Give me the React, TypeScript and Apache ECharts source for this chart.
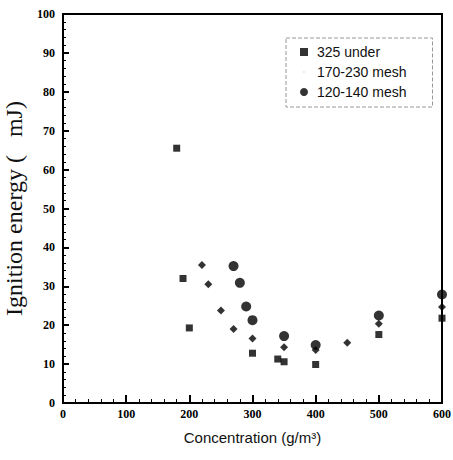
import React, { useEffect, useRef } from "react";
import * as echarts from "echarts";

const seriesNames = ["325 under", "170-230 mesh", "120-140 mesh"];
const under325: [number, number][] = [
  [180, 65.5], [190, 32], [200, 19.3], [300, 12.8], [340, 11.3], [350, 10.6], [400, 9.9], [500, 17.6], [600, 21.8],
];
const mesh170: [number, number][] = [
  [220, 35.5], [230, 30.5], [250, 23.8], [270, 19], [300, 16.6], [350, 14.3], [400, 13.6], [450, 15.5], [500, 20.4], [600, 24.7],
];
const mesh120: [number, number][] = [
  [270, 35.2], [280, 30.9], [290, 24.8], [300, 21.3], [350, 17.2], [400, 14.9], [500, 22.5], [600, 27.9],
];

export default function App() {
  const ref = useRef<HTMLDivElement>(null);
  useEffect(() => {
    if (!ref.current) return;
    const chart = echarts.init(ref.current, null, { renderer: "svg" });
    const tickLabel = { fontFamily: "Liberation Serif", fontWeight: "bold" as const, fontSize: 12, color: "#000" };
    chart.setOption({
      animation: false,
      backgroundColor: "#fff",
      grid: {
        left: 63, right: 11, top: 14, bottom: 57, show: true, borderColor: "#000", borderWidth: 2,
        containLabel: false, outerBoundsMode: "none",
      },
      legend: {
        orient: "vertical",
        left: 286,
        top: 38,
        padding: [7, 26, 8, 14],
        itemGap: 6,
        itemWidth: 8,
        itemHeight: 8,
        borderColor: "#999",
        borderWidth: 1,
        borderType: "dashed",
        textStyle: { fontFamily: "Liberation Sans", fontSize: 14, color: "#111", padding: [0, 0, 0, 4] },
        data: [
          { name: seriesNames[0], icon: "rect" },
          { name: seriesNames[1], icon: "path://M0,0M10,10M4.3,4.3h1.4v1.4h-1.4z", itemStyle: { color: "#aaa" } },
          { name: seriesNames[2], icon: "circle" },
        ],
      },
      xAxis: {
        type: "value",
        min: 0,
        max: 600,
        interval: 100,
        name: "Concentration (g/m³)",
        nameLocation: "middle",
        nameGap: 27,
        nameTextStyle: { fontFamily: "Liberation Sans", fontSize: 15, color: "#111", verticalAlign: "top" },
        axisLine: { lineStyle: { color: "#000", width: 2 } },
        axisTick: { inside: true, length: 8, lineStyle: { color: "#000", width: 2 } },
        minorTick: { show: true, splitNumber: 5, length: 4, lineStyle: { color: "#000", width: 1 } },
        axisLabel: { ...tickLabel, margin: 5 },
        splitLine: { show: false },
      },
      yAxis: {
        type: "value",
        min: 0,
        max: 100,
        interval: 10,
        name: "Ignition energy (   mJ)",
        nameLocation: "middle",
        nameGap: 29,
        nameTextStyle: { fontFamily: "Liberation Serif", fontSize: 24, color: "#111" },
        axisLine: { lineStyle: { color: "#000", width: 2 } },
        axisTick: { inside: true, length: 6, lineStyle: { color: "#000", width: 2 } },
        minorTick: { show: true, splitNumber: 5, length: 3, lineStyle: { color: "#000", width: 1 } },
        axisLabel: { ...tickLabel, margin: 8 },
        splitLine: { show: false },
      },
      series: [
        { name: seriesNames[0], type: "scatter", data: under325, symbol: "rect", symbolSize: 7, clip: false, itemStyle: { color: "#000" } },
        { name: seriesNames[1], type: "scatter", data: mesh170, symbol: "diamond", symbolSize: 8, clip: false, itemStyle: { color: "#000" } },
        { name: seriesNames[2], type: "scatter", data: mesh120, symbol: "circle", symbolSize: 10, clip: false, itemStyle: { color: "#000" } },
      ],
    });
    return () => chart.dispose();
  }, []);
  return <div ref={ref} style={{ width: 453, height: 460, position: "absolute", left: 0, top: 0 }} />;
}
